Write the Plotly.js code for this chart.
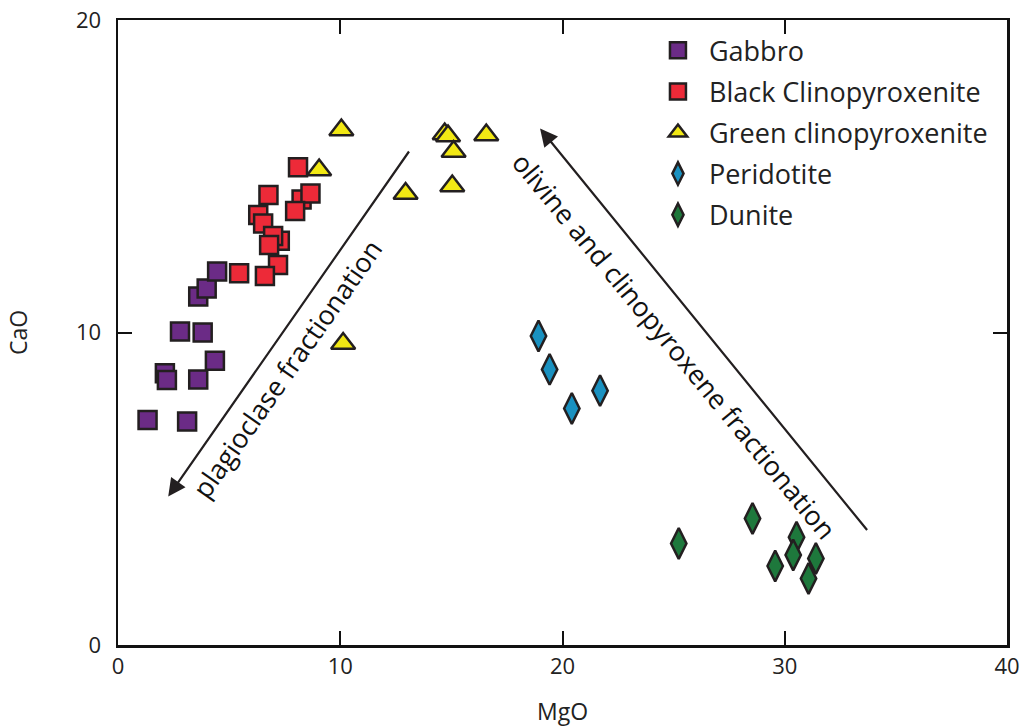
<!DOCTYPE html>
<html>
<head>
<meta charset="utf-8">
<script src="https://cdn.plot.ly/plotly-3.0.1.min.js"></script>
<style>html,body{margin:0;padding:0;background:#fff;}#chart{width:1024px;height:727px;}</style>
</head>
<body>
<div id="chart"></div>
<script>
// Gabbro
var gabbroMgO = [1.33, 3.11, 2.11, 2.20, 3.61, 4.36, 2.79, 3.81, 3.61, 3.99, 4.46];
var gabbroCaO = [7.20, 7.15, 8.70, 8.48, 8.50, 9.10, 10.03, 10.00, 11.15, 11.41, 11.95];
// Black Clinopyroxenite
var blackMgO = [8.10, 6.77, 8.26, 8.66, 7.97, 6.31, 6.53, 7.28, 6.98, 6.80, 7.20, 5.45, 6.61];
var blackCaO = [15.29, 14.40, 14.26, 14.45, 13.89, 13.76, 13.49, 12.94, 13.09, 12.80, 12.16, 11.90, 11.81];
// Green clinopyroxenite
var greenMgO = [10.05, 9.05, 10.13, 12.94, 14.70, 14.85, 15.10, 16.57, 15.04];
var greenCaO = [16.48, 15.20, 9.65, 14.45, 16.35, 16.29, 15.79, 16.32, 14.69];
// Peridotite
var peridMgO = [18.92, 19.42, 20.42, 21.69];
var peridCaO = [9.89, 8.82, 7.57, 8.14];
// Dunite
var duniteMgO = [25.23, 28.55, 30.53, 30.38, 29.57, 31.40, 31.07];
var duniteCaO = [3.25, 4.05, 3.45, 2.88, 2.53, 2.77, 2.13];

var xTicks = [0, 10, 20, 30, 40];
var yTicks = [0, 10, 20];

var outline = '#231F20';
var FONT = 'Open Sans, Noto Sans, sans-serif';

function tr(name, x, y, sym, color, size) {
  return {
    type: 'scatter', mode: 'markers', name: name, x: x, y: y,
    legendgroup: name,
    marker: {symbol: sym, color: color, size: size, line: {color: outline, width: 2.5}},
    cliponaxis: false
  };
}

var data = [
  tr('Gabbro', gabbroMgO, gabbroCaO, 'square', '#6B2B86', 18),
  tr('Black Clinopyroxenite', blackMgO, blackCaO, 'square', '#ED2A38', 18),
  tr('Green clinopyroxenite', greenMgO, greenCaO, 'triangle-up', '#F2E814', 21),
  tr('Peridotite', peridMgO, peridCaO, 'diamond-tall', '#1A91C0', 22),
  tr('Dunite', duniteMgO, duniteCaO, 'diamond-tall', '#1E783C', 22)
];

var axisCommon = {
  showgrid: false, zeroline: false, showline: true, linecolor: '#111', linewidth: 2.5,
  mirror: 'ticks', ticks: 'inside', ticklen: 14, tickwidth: 2, tickcolor: '#111',
  tickfont: {family: FONT, size: 22, color: '#222'}
};

var layout = {
  width: 1024, height: 727,
  margin: {l: 118, r: 17, t: 20, b: 82},
  paper_bgcolor: '#fff', plot_bgcolor: '#fff',
  font: {family: FONT, color: '#222'},
  showlegend: true,
  legend: {
    x: 0.595, y: 0.99, xanchor: 'left', yanchor: 'top',
    bgcolor: 'rgba(0,0,0,0)', borderwidth: 0,
    itemwidth: 52,
    font: {family: FONT, size: 27, color: '#222'},
    tracegroupgap: 3
  },
  xaxis: Object.assign({}, axisCommon, {
    range: [0, 40], tickvals: xTicks, ticktext: xTicks.map(String),
    title: {text: 'MgO', font: {family: FONT, size: 23, color: '#222'}, standoff: 26}
  }),
  yaxis: Object.assign({}, axisCommon, {
    range: [0, 20], tickvals: yTicks, ticktext: yTicks.map(String),
    ticklabelstandoff: 10,
    title: {text: 'CaO', font: {family: FONT, size: 23, color: '#222'}, standoff: 42}
  }),
  annotations: [
    {xref: 'x', yref: 'y', axref: 'x', ayref: 'y', x: 2.26, y: 4.75, ax: 13.14, ay: 15.84,
     text: '', showarrow: true, arrowhead: 2, arrowsize: 1.6, arrowwidth: 2.2, arrowcolor: '#231F20'},
    {xref: 'x', yref: 'y', axref: 'x', ayref: 'y', x: 18.99, y: 16.53, ax: 33.76, ay: 3.63,
     text: '', showarrow: true, arrowhead: 2, arrowsize: 1.6, arrowwidth: 2.2, arrowcolor: '#231F20'},
    {xref: 'x', yref: 'y', x: 7.6, y: 8.85, text: 'plagioclase fractionation', showarrow: false,
     textangle: -55, font: {family: FONT, size: 27, color: '#111'}},
    {xref: 'x', yref: 'y', x: 25.05, y: 9.6, text: 'olivine and clinopyroxene fractionation', showarrow: false,
     textangle: 50.5, font: {family: FONT, size: 27, color: '#111'}}
  ]
};

Plotly.newPlot('chart', data, layout, {displayModeBar: false, staticPlot: true});
</script>
</body>
</html>
